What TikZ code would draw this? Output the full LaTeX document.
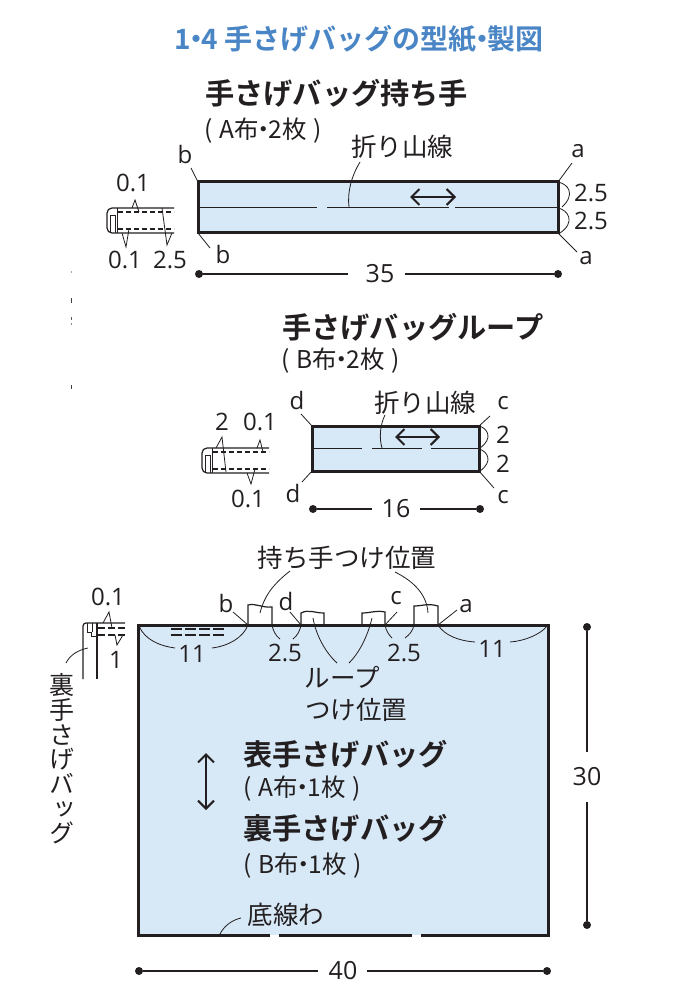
\documentclass[tikz,border=0pt]{standalone}
\usepackage{fontspec}
\setmainfont{Open Sans}
\newfontfamily\jp{Noto Sans CJK JP}[BoldFont={Noto Sans CJK JP Bold}]
\newfontfamily\jpv{Noto Sans CJK JP}[RawFeature=+vert]
\usetikzlibrary{arrows.meta}
\definecolor{fillb}{HTML}{D7E8F7}
\definecolor{titleb}{HTML}{4A86C5}
\definecolor{ink}{HTML}{231F20}
\newcommand{\md}{\kern-.3em・\kern-.3em}
\newcommand{\pa}[1]{(\kern.28em #1\kern.28em)}
\tikzset{
 panel/.style={fill=fillb,draw=none},
 edge/.style={draw=ink,line width=3pt,line cap=butt},
 fold/.style={draw=ink,line width=1.8pt},
 thin/.style={draw=ink,line width=1.2pt},
 inner/.style={draw=ink,line width=0.9pt},
 lead/.style={draw=ink,line width=0.8pt},
 dim/.style={draw=ink,line width=1.2pt},
 dotend/.style={circle,fill=ink,inner sep=0pt,minimum size=8pt},
 dashl/.style={draw=ink,line width=1.1pt,dash pattern=on 5pt off 3pt},
 lab/.style={inner sep=0pt,text=ink,font=\fontsize{24}{24}\selectfont},
 dimlab/.style={inner sep=0pt,text=ink,font=\fontsize{25}{25}\selectfont},
 jl/.style={inner sep=0pt,text=ink,font=\jp\fontsize{25.5}{26}\selectfont},
 par/.style={inner sep=0pt,anchor=west,text=ink,font=\jp\fontsize{24.5}{25}\selectfont},
 head/.style={inner sep=0pt,anchor=west,text=ink,font=\jp\bfseries\fontsize{29.2}{30}\selectfont},
 dblarrow/.style={draw=ink,line width=2.1pt,{Straight Barb[length=8pt,width=16pt]}-{Straight Barb[length=8pt,width=16pt]}},
}
\begin{document}
\begin{tikzpicture}[x=1pt,y=-1pt]
\useasboundingbox (0,0) rectangle (680,1000);
\fill[white] (0,0) rectangle (680,1000);
\node[inner sep=0pt,text=titleb,font=\jp\bfseries\fontsize{28}{28}\selectfont] (title) at (359,39) {1\kern-.3em・\kern-.3em4 手さげバッグの型紙\md 製図};

% faint marks at left
\foreach \ya/\yb/\gv in {271/273/35,298/303/75,317/320/65,323/325/45,385/389/75}
  \draw[black!\gv,line width=1pt] (71,\ya) -- (71,\yb);

% ---------- handle ----------
\node[head] (h1) at (205,93) {手さげバッグ持ち手};
\node[par] (h1b) at (204,131) {\pa{A布\md 2枚}};
\fill[panel] (198,182) rectangle (558,233);
\draw[fold] (198,207.5) -- (317,207.5) (327,207.5) -- (449,207.5) (455,207.5) -- (558,207.5);
\draw[edge] (198,182) rectangle (558,233);
\draw[dblarrow] (410,197) -- (456,197);
\node[jl] (f1) at (402,147) {折り山線};
\draw[lead] (360,162) .. controls (352,175) and (347,192) .. (349,207);
\node[lab] (b1) at (185,155) {b};
\node[lab] (b2) at (223,254) {b};
\node[lab] (a1) at (578,151) {a};
\node[lab] (a2) at (586,258) {a};
\draw[lead] (191,168) -- (198,182) (198,233) -- (210,248) (572,163) -- (558,182) (558,233) -- (577,252);
\draw[lead] (558,182) .. controls (568,184) and (576,194) .. (562,207);
\draw[lead] (558,208) .. controls (568,210) and (576,222) .. (560,233);
\node[lab] (d25a) at (591,193) {2.5};
\node[lab] (d25b) at (591,221) {2.5};
\node[dotend] (l1) at (199,274) {};
\node[dotend] (r1) at (558,274) {};
\node[dimlab] (n35) at (380,274) {35};
\draw[dim] (l1) -- (348,274) (405,274) -- (r1);
% handle detail
\draw[thin,rounded corners=5pt] (174,208) -- (107,208) -- (107,233) -- (174,233);
\draw[inner] (117,208) -- (117,233) (110,233) -- (110,215) -- (115,215) -- (115,233);
\draw[dashl] (118,212) -- (174,212) (118,229) -- (174,229);
\node[lab] (d01a) at (133,183) {0.1};
\node[lab] (d01b) at (125,260) {0.1};
\node[lab] (d25c) at (170,260) {2.5};
\draw[lead] (132,208) -- (135,200) -- (139,212);
\draw[lead] (122,233) -- (126,247) -- (129,229);
\draw[lead] (162,208) -- (167,245) -- (172,233);

% ---------- loop ----------
\node[head] (h2) at (282,327) {手さげバッグループ};
\node[par] (h2b) at (281,361) {\pa{B布\md 2枚}};
\fill[panel] (312,426) rectangle (479,471);
\draw[fold] (312,448.5) -- (362,448.5) (372,448.5) -- (422,448.5) (431,448.5) -- (479,448.5);
\draw[edge] (312,426) rectangle (479,471);
\draw[dblarrow] (395,437) -- (440,437);
\node[jl] (f2) at (425,403) {折り山線};
\draw[lead] (385,415) .. controls (380,425) and (379,438) .. (382,448);
\node[lab] (d1) at (297,400) {d};
\node[lab] (d2) at (293,493) {d};
\node[lab] (c1) at (503,403) {c};
\node[lab] (c2) at (503,497) {c};
\draw[lead] (301,414) -- (312,426) (302,482) -- (312,471) (490,416) -- (479,426) (479,471) -- (494,488);
\draw[lead] (479,426) .. controls (487,428) and (494,438) .. (480,448);
\draw[lead] (479,449) .. controls (487,451) and (494,461) .. (480,471);
\node[lab] (t2a) at (503,435) {2};
\node[lab] (t2b) at (503,464) {2};
\node[dotend] (l2) at (313,509) {};
\node[dotend] (r2) at (480,509) {};
\node[dimlab] (n16) at (396,509) {16};
\draw[dim] (l2) -- (372,509) (420,509) -- (r2);
% loop detail
\draw[thin,rounded corners=5pt] (269,448) -- (202,448) -- (202,473) -- (269,473);
\draw[inner] (212,448) -- (212,473) (205,473) -- (205,455) -- (210,455) -- (210,473);
\draw[dashl] (213,452) -- (269,452) (213,469) -- (269,469);
\node[lab] (t2c) at (222,422) {2};
\node[lab] (d01c) at (260,422) {0.1};
\node[lab] (d01d) at (248,499) {0.1};
\draw[lead] (216,448) -- (222,437) -- (226,472);
\draw[lead] (257,448) -- (260,440) -- (263,452);
\draw[lead] (247,473) -- (251,484) -- (255,469);

% ---------- bag ----------
\fill[panel] (139,625) rectangle (547,935);
\draw[edge] (270,935) -- (138,935) -- (138,625) -- (548,625) -- (548,935) -- (421,935);
\draw[edge] (279,935) -- (412,935);
% straps and loops
\draw[thin] (248,625) -- (248,605) .. controls (256,603) and (262,608) .. (272,607) -- (272,625);
\draw[thin] (301,625) -- (301,613) .. controls (309,609) and (314,613) .. (324,613) -- (324,625);
\draw[thin] (362,625) -- (362,613) .. controls (371,613) and (376,610) .. (385,612) -- (385,625);
\draw[thin] (414,625) -- (414,606) .. controls (422,606) and (428,603) .. (438,606) -- (438,625);
\draw[dashl,dash pattern=on 11pt off 3pt] (171,629) -- (225,629) (171,635) -- (225,635);
\node[jl] (pos) at (347,558) {持ち手つけ位置};
\draw[lead] (260,613) .. controls (264,597) and (272,585) .. (290,571);
\draw[lead] (428,613) .. controls (427,597) and (417,583) .. (395,572);
\node[lab] (bb) at (226,603) {b};
\node[lab] (dd) at (286,601) {d};
\node[lab] (cc) at (396,598) {c};
\node[lab] (aa) at (466,606) {a};
\draw[lead] (233,612) -- (248,625) (290,612) -- (301,625) (397,612) -- (385,625) (457,610) -- (438,625);
\node[lab] (e11a) at (192,654) {11};
\node[lab] (e25a) at (285,653) {2.5};
\node[lab] (e25b) at (404,653) {2.5};
\node[lab] (e11b) at (492,649) {11};
\draw[lead] (139,626) .. controls (145,640) and (160,646) .. (175,648);
\draw[lead] (212,648) .. controls (228,646) and (243,638) .. (248,625);
\draw[lead] (272,625) .. controls (273,631) and (276,636) .. (280,639);
\draw[lead] (301,625) .. controls (300,631) and (297,636) .. (293,639);
\draw[lead] (385,625) .. controls (386,631) and (389,635) .. (392,638);
\draw[lead] (414,625) .. controls (413,631) and (409,635) .. (405,638);
\draw[lead] (438,625) .. controls (445,636) and (460,641) .. (475,642);
\draw[lead] (510,642) .. controls (525,641) and (541,634) .. (547,626);
\node[jl] (loop) at (342,677) {ループ};
\node[jl] (loopb) at (356,710) {つけ位置};
\draw[lead] (313,618) .. controls (316,635) and (325,652) .. (337,663);
\draw[lead] (372,618) .. controls (368,635) and (360,652) .. (349,663);
\node[head] (m1) at (243,754) {表手さげバッグ};
\node[par] (m1b) at (243,789) {\pa{A布\md 1枚}};
\node[head] (m2) at (243,828) {裏手さげバッグ};
\node[par] (m2b) at (243,866) {\pa{B布\md 1枚}};
\draw[dblarrow] (206,753) -- (206,810);
\node[jl] (bot) at (286,915) {底線わ};
\draw[lead] (220,934) .. controls (224,926) and (232,920) .. (241,918);
\node[dotend] (t3) at (587,627) {};
\node[dotend] (b3) at (587,925) {};
\node[dimlab] (n30) at (587,777) {30};
\draw[dim] (t3) -- (587,752) (587,802) -- (b3);
\node[dotend] (l4) at (139,971) {};
\node[dotend] (r4) at (547,971) {};
\node[dimlab] (n40) at (343,971) {40};
\draw[dim] (l4) -- (318,971) (367,971) -- (r4);
% bag detail
\draw[thin,rounded corners=3pt] (83,679) -- (83,623) -- (125,623);
\draw[thin] (97,623) -- (97,679);
\draw[inner] (87,623) -- (87,632) -- (91,632) -- (91,636) -- (96,636) (92,623) -- (92,632);
\draw[dashl,dash pattern=on 7pt off 3pt] (98,628) -- (125,628) (98,635) -- (125,635);
\node[lab] (d01e) at (108,597) {0.1};
\node[lab] (one) at (116,660) {1};
\draw[lead] (103,623) -- (109,612) -- (112,628);
\draw[lead] (115,635) -- (117,645) -- (123,635);
\draw[lead] (88,648) .. controls (78,650) and (70,655) .. (66,663);
\node[inner sep=0pt,text=ink,align=center,font=\jpv\fontsize{25}{24.7}\selectfont] (vert) at (62,759) {裏\\手\\さ\\げ\\バ\\ッ\\グ};
\end{tikzpicture}
\end{document}
